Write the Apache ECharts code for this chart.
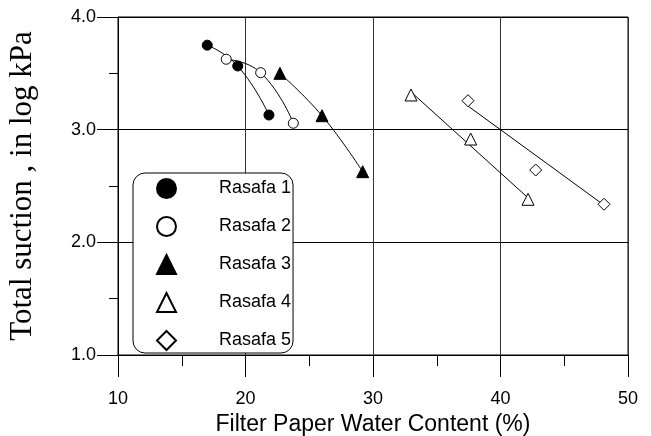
<!DOCTYPE html>
<html><head><meta charset="utf-8">
<script src="https://cdn.jsdelivr.net/npm/echarts@6/dist/echarts.min.js"></script>
<style>html,body{margin:0;padding:0;background:#fff}#c{width:651px;height:436px}</style>
</head><body><div id="c"></div>
<script>
const xTicks = [10, 20, 30, 40, 50];
const yTicks = [1.0, 2.0, 3.0, 4.0];
const seriesNames = ['Rasafa 1', 'Rasafa 2', 'Rasafa 3', 'Rasafa 4', 'Rasafa 5'];
const rasafa1 = [[17.0, 3.75], [19.39, 3.565], [21.84, 3.13]];
const rasafa2 = [[18.49, 3.625], [21.19, 3.506], [23.75, 3.057]];
const rasafa3 = [[22.7, 3.50], [26.0, 3.124], [29.19, 2.627]];
const rasafa4 = [[32.98, 3.308], [37.66, 2.917], [42.16, 2.382]];
const rasafa5 = [[37.45, 3.257], [42.76, 2.642], [48.12, 2.338]];
const fit4 = [[32.98, 3.335], [42.16, 2.395]];
const fit5 = [[37.45, 3.21], [48.12, 2.33]];

const sans = 'Liberation Sans, Arial, sans-serif';
const serif = 'Liberation Serif, Times New Roman, serif';

function markers(name, data, symbol, filled, size) {
  return {
    type: 'scatter', name: name, data: data, symbol: symbol, symbolSize: size, z: 5,
    itemStyle: { color: filled ? '#000' : '#fff', borderColor: '#000', borderWidth: 1, opacity: 1 }
  };
}
function curve(name, data, smooth) {
  return {
    type: 'line', name: name, data: data, smooth: smooth, showSymbol: false, symbol: 'none',
    lineStyle: { color: '#000', width: 1 }, z: 4, silent: true
  };
}

const chart = echarts.init(document.getElementById('c'), null, { renderer: 'canvas' });
chart.setOption({
  backgroundColor: '#fff',
  animation: false,
  grid: { left: 118, right: 23, top: 17, bottom: 81, show: true, borderColor: '#000', borderWidth: 1,
          backgroundColor: 'transparent', containLabel: false, outerBoundsMode: 'none' },
  xAxis: {
    type: 'value', min: xTicks[0], max: xTicks[xTicks.length - 1], interval: 10,
    name: 'Filter Paper Water Content (%)', nameLocation: 'middle', nameGap: 56,
    nameTextStyle: { fontFamily: sans, fontSize: 23, color: '#000' },
    axisLine: { show: true, lineStyle: { color: '#000', width: 1 } },
    axisTick: { show: true, inside: false, length: 22, lineStyle: { color: '#000', width: 1 } },
    minorTick: { show: true, splitNumber: 2, length: 11, lineStyle: { color: '#000', width: 1 } },
    axisLabel: { margin: 35, fontFamily: sans, fontSize: 18, color: '#000', formatter: v => String(v) },
    splitLine: { show: true, lineStyle: { color: '#333', width: 1 } }
  },
  yAxis: {
    type: 'value', min: yTicks[0], max: yTicks[yTicks.length - 1], interval: 1,
    name: 'Total suction , in log kPa', nameLocation: 'middle', nameGap: 80, nameRotate: 90,
    nameTextStyle: { fontFamily: serif, fontSize: 31, color: '#000' },
    axisLine: { show: true, lineStyle: { color: '#000', width: 1 } },
    axisTick: { show: true, inside: false, length: 21, lineStyle: { color: '#000', width: 1 } },
    minorTick: { show: true, splitNumber: 2, length: 9, lineStyle: { color: '#000', width: 1 } },
    axisLabel: { margin: 22, fontFamily: sans, fontSize: 18, color: '#000', formatter: v => v.toFixed(1) },
    splitLine: { show: true, lineStyle: { color: '#000', width: 1 } }
  },
  legend: {
    show: true, orient: 'vertical', left: 133, top: 173,
    data: seriesNames,
    itemWidth: 19, itemHeight: 19, itemGap: 17,
    padding: [5, 2, 2, 23],
    backgroundColor: '#fff', borderColor: '#000', borderWidth: 1, borderRadius: 12,
    selectedMode: false,
    textStyle: { fontFamily: sans, fontSize: 18, color: '#000', padding: [0, 0, 0, 38] },
    z: 10
  },
  series: [
    curve('fit1', rasafa1, 0.5),
    curve('fit2', rasafa2, 0.5),
    curve('fit3', rasafa3, 0.45),
    curve('fit4', fit4, false),
    curve('fit5', fit5, false),
    markers(seriesNames[0], rasafa1, 'circle', true, 10),
    markers(seriesNames[1], rasafa2, 'circle', false, 10),
    markers(seriesNames[2], rasafa3, 'triangle', true, 12),
    markers(seriesNames[3], rasafa4, 'triangle', false, 12),
    markers(seriesNames[4], rasafa5, 'diamond', false, 12)
  ]
});
</script></body></html>
